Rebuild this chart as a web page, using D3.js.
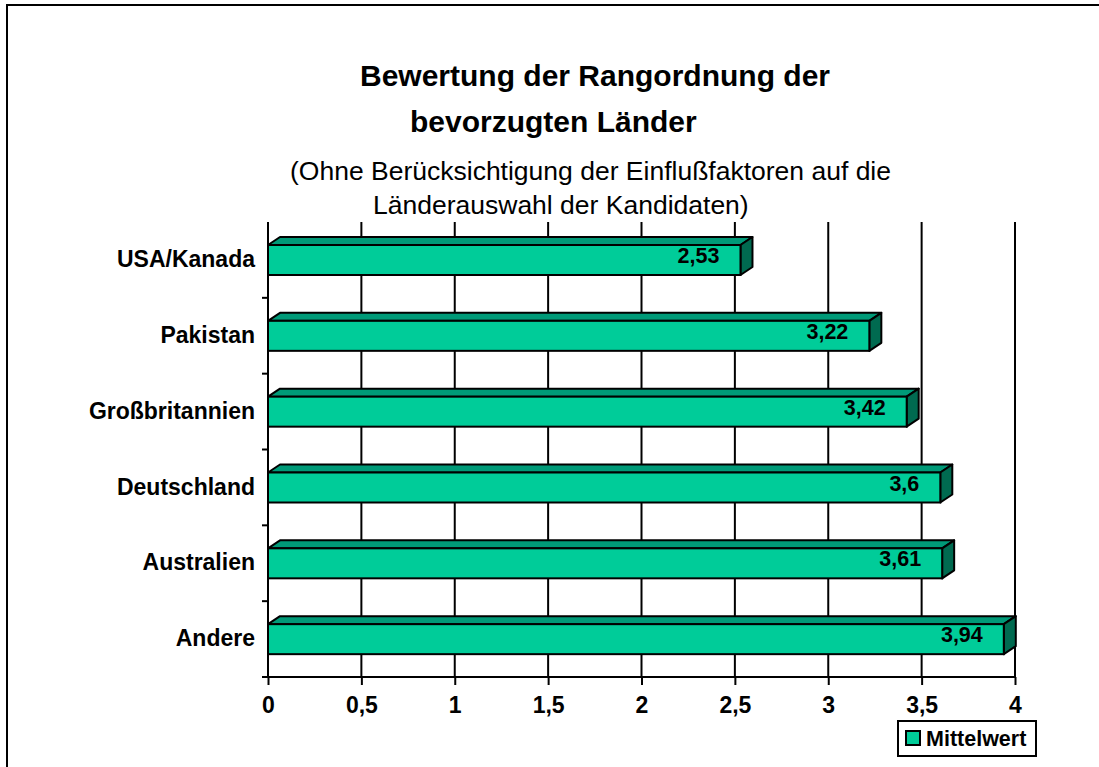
<!DOCTYPE html>
<html>
<head>
<meta charset="utf-8">
<script src="https://cdn.jsdelivr.net/npm/d3@7"></script>
<style>
  body { margin: 0; background: #fff; }
  svg text { font-family: Arial, "Liberation Sans", sans-serif; fill: #000; }
</style>
</head>
<body>
<div class="chart-container"></div>
<script>
// --- Data ---
const countries = ["USA/Kanada", "Pakistan", "Großbritannien", "Deutschland", "Australien", "Andere"];
const meanValues = [2.53, 3.22, 3.42, 3.6, 3.61, 3.94];
const valueLabels = ["2,53", "3,22", "3,42", "3,6", "3,61", "3,94"];
const xTicks = [0, 0.5, 1, 1.5, 2, 2.5, 3, 3.5, 4];
const xTickLabels = ["0", "0,5", "1", "1,5", "2", "2,5", "3", "3,5", "4"];
const seriesName = "Mittelwert";

const dims = { width: 1099, height: 767 };
const plot = { left: 268, right: 1015, top: 222, bottom: 677 };
const depth = { dx: 12, dy: -8 };   // 3d offset of the bars
const barHeight = 30;
const barOffset = 23;               // front face top relative to band start

const colFront = "#00cc99", colTop = "#009a78", colSide = "#006a50";

const svg = d3.select(".chart-container").append("svg")
    .attr("width", dims.width)
    .attr("height", dims.height);

// outer frame (cut off at right / bottom like the original)
svg.append("rect")
    .attr("x", 7).attr("y", 5)
    .attr("width", 1100).attr("height", 800)
    .attr("fill", "none").attr("stroke", "#000").attr("stroke-width", 2);

const xScale = d3.scaleLinear().domain([0, 4]).range([plot.left, plot.right]);
const yScale = d3.scaleBand().domain(countries).range([plot.top, plot.bottom]);

// --- grid lines ---
svg.append("g").selectAll("line")
    .data(xTicks.slice(1))
    .enter().append("line")
    .attr("x1", d => xScale(d)).attr("x2", d => xScale(d))
    .attr("y1", plot.top).attr("y2", plot.bottom)
    .attr("stroke", "#000").attr("stroke-width", 2);

// --- X axis ---
const xAxis = svg.append("g")
    .attr("transform", `translate(0, ${plot.bottom})`)
    .call(d3.axisBottom(xScale)
        .tickValues(xTicks)
        .tickSize(8)
        .tickSizeOuter(0)
        .tickPadding(12)
        .tickFormat((d, i) => xTickLabels[i]));
xAxis.select(".domain").attr("stroke-width", 2).attr("d", `M${plot.left - 6},0H${plot.right}`);
xAxis.selectAll(".tick line").attr("stroke-width", 2);
xAxis.selectAll("text")
    .style("font-size", "23px").style("font-weight", "bold")
    .attr("dy", "0.71em");

// --- Y axis (line + ticks between categories) ---
const yTickPos = d3.range(countries.length + 1).map(i => plot.top + i * yScale.step());
svg.append("line")
    .attr("x1", plot.left).attr("x2", plot.left)
    .attr("y1", plot.top).attr("y2", plot.bottom)
    .attr("stroke", "#000").attr("stroke-width", 2);
svg.append("g").selectAll("line")
    .data(yTickPos.slice(1))
    .enter().append("line")
    .attr("x1", plot.left - 6).attr("x2", plot.left)
    .attr("y1", d => d).attr("y2", d => d)
    .attr("stroke", "#000").attr("stroke-width", 2);

svg.append("g").selectAll("text")
    .data(countries)
    .enter().append("text")
    .attr("x", 255)
    .attr("y", d => yScale(d) + barOffset + barHeight / 2 + 7)
    .attr("text-anchor", "end")
    .style("font-size", "23px").style("font-weight", "bold")
    .text(d => d);

// --- 3D bars ---
const bars = svg.append("g").selectAll("g")
    .data(countries.map((c, i) => ({ c, v: meanValues[i], label: valueLabels[i] })))
    .enter().append("g");

bars.each(function (d) {
    const g = d3.select(this);
    const x0 = xScale(0), x1 = xScale(d.v);
    const y0 = yScale(d.c) + barOffset, y1 = y0 + barHeight;
    const { dx, dy } = depth;
    g.append("path")
        .attr("d", `M${x0},${y0}L${x0 + dx},${y0 + dy}L${x1 + dx},${y0 + dy}L${x1},${y0}Z`)
        .attr("fill", colTop).attr("stroke", "#000").attr("stroke-width", 2).attr("stroke-linejoin", "round");
    g.append("path")
        .attr("d", `M${x1},${y0}L${x1 + dx},${y0 + dy}L${x1 + dx},${y1 + dy}L${x1},${y1}Z`)
        .attr("fill", colSide).attr("stroke", "#000").attr("stroke-width", 2).attr("stroke-linejoin", "round");
    g.append("rect")
        .attr("x", x0).attr("y", y0)
        .attr("width", x1 - x0).attr("height", barHeight)
        .attr("fill", colFront).attr("stroke", "#000").attr("stroke-width", 2);
    g.append("text")
        .attr("x", x1 - 21)
        .attr("y", y0 + 18)
        .attr("text-anchor", "end")
        .style("font-size", "21.5px").style("font-weight", "bold")
        .text(d.label);
});

// --- Titles ---
svg.append("text").attr("x", 360).attr("y", 86)
    .style("font-size", "30px").style("font-weight", "bold")
    .text("Bewertung der Rangordnung der");
svg.append("text").attr("x", 410).attr("y", 132)
    .style("font-size", "30px").style("font-weight", "bold")
    .text("bevorzugten Länder");
svg.append("text").attr("x", 290).attr("y", 180)
    .style("font-size", "26.5px")
    .text("(Ohne Berücksichtigung der Einflußfaktoren auf die");
svg.append("text").attr("x", 373).attr("y", 214)
    .style("font-size", "26.5px")
    .text("Länderauswahl der Kandidaten)");

// --- Legend ---
const legend = svg.append("g").attr("transform", "translate(898, 721)");
legend.append("rect")
    .attr("width", 138).attr("height", 35)
    .attr("fill", "#fff").attr("stroke", "#000").attr("stroke-width", 2);
legend.append("rect")
    .attr("x", 8).attr("y", 10).attr("width", 14).attr("height", 14)
    .attr("fill", colFront).attr("stroke", "#000").attr("stroke-width", 2);
legend.append("text")
    .attr("x", 28).attr("y", 25)
    .style("font-size", "21.5px").style("font-weight", "bold")
    .text(seriesName);
</script>
</body>
</html>
